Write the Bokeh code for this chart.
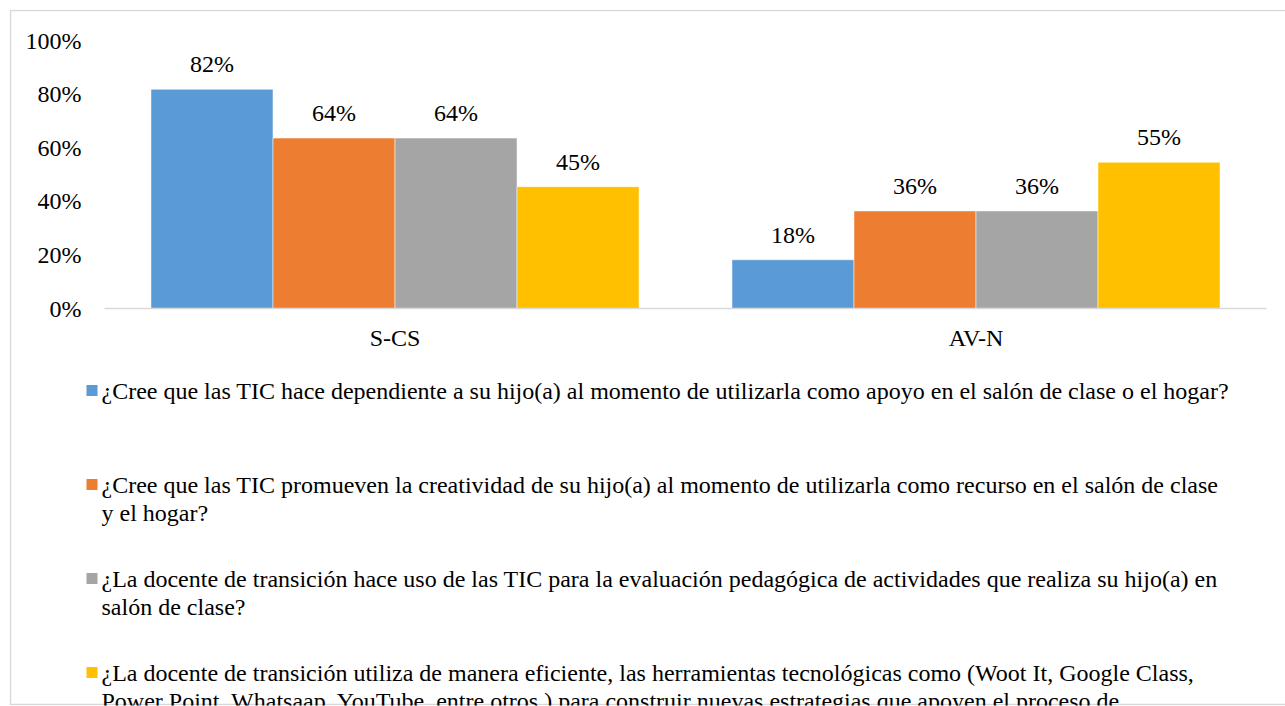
from bokeh.plotting import figure
from bokeh.models import (Range1d, ColumnDataSource, LabelSet, LinearAxis,
                          NumeralTickFormatter, FixedTicker)
from bokeh.embed import file_html
from bokeh.resources import INLINE

groups = ["S-CS", "AV-N"]
series_lines = [
    ["¿Cree que las TIC hace dependiente a su hijo(a) al momento de utilizarla como apoyo en el salón de clase o el hogar?"],
    ["¿Cree que las TIC promueven la creatividad de su hijo(a) al momento de utilizarla como recurso en el salón de clase",
     "y el hogar?"],
    ["¿La docente de transición hace uso de las TIC para la evaluación pedagógica de actividades que realiza su hijo(a) en",
     "salón de clase?"],
    ["¿La docente de transición utiliza de manera eficiente, las herramientas tecnológicas como (Woot It, Google Class,",
     "Power Point, Whatsaap, YouTube, entre otros ) para construir nuevas estrategias que apoyen el proceso de"],
]
values_s1 = [0.818, 0.182]
values_s2 = [0.636, 0.364]
values_s3 = [0.636, 0.364]
values_s4 = [0.4545, 0.5455]
series_values = [values_s1, values_s2, values_s3, values_s4]
colors = ["#5B9BD5", "#ED7D31", "#A5A5A5", "#FFC000"]
y_ticks = [0, 0.2, 0.4, 0.6, 0.8, 1.0]

FONT = "Liberation Serif"
FS = "24px"

# layout in page pixels
W, H = 1285, 706
FRAME_L, FRAME_T, FRAME_B = 9, 9, 705            # plot frame (covers whole chart box)
BOX_L, BOX_T, BOX_B = 10, 10, 704                # outer chart border
PLOT_L, PLOT_T, PLOT_B = 104, 40, 308            # inner plotting area
GROUP_PX = 581                                   # pixels per category band
UNIT_PX_Y = (PLOT_B - PLOT_T)                    # pixels per 100%

def px_to_x(px):
    return (px - PLOT_L) / GROUP_PX

def py_to_y(py):
    return (PLOT_B - py) / UNIT_PX_Y

p = figure(x_range=Range1d(px_to_x(FRAME_L), px_to_x(W)),
           y_range=Range1d(py_to_y(FRAME_B), py_to_y(FRAME_T)),
           width=W, height=H, output_backend="svg", toolbar_location=None,
           x_axis_type=None, y_axis_type=None,
           min_border_left=FRAME_L, min_border_top=FRAME_T, min_border_right=0,
           min_border_bottom=H - FRAME_B)
p.outline_line_color = None
p.grid.grid_line_color = None
p.background_fill_color = "white"
p.border_fill_color = "white"

# outer border of the chart box (right side lies beyond the window)
p.line(x=[px_to_x(W + 10), px_to_x(BOX_L), px_to_x(BOX_L), px_to_x(W + 10)],
       y=[py_to_y(BOX_T), py_to_y(BOX_T), py_to_y(BOX_B), py_to_y(BOX_B)],
       line_color="#D9D9D9", line_width=1.5)

bar_w = 0.21
offsets = [-0.315, -0.105, 0.105, 0.315]
for vals, col, off in zip(series_values, colors, offsets):
    xs = [i + 0.5 + off for i in range(len(groups))]
    src = ColumnDataSource(dict(x=xs, v=vals, t=[f"{round(v*100)}%" for v in vals]))
    p.vbar(x="x", top="v", bottom=0, width=bar_w, source=src,
           fill_color=col, line_color="white", line_width=0.5)
    p.add_layout(LabelSet(x="x", y="v", text="t", source=src,
                          y_offset=25, text_align="center", text_baseline="middle",
                          text_font=FONT, text_font_size=FS, text_color="#000000"))

yaxis = LinearAxis(fixed_location=0, bounds=(0, 1),
                   ticker=FixedTicker(ticks=y_ticks),
                   formatter=NumeralTickFormatter(format="0%"))
yaxis.axis_line_color = None
yaxis.major_tick_line_color = None
yaxis.minor_tick_line_color = None
yaxis.major_tick_out = 0
yaxis.major_tick_in = 0
yaxis.major_label_standoff = 23
p.add_layout(yaxis, "left")

xaxis = LinearAxis(fixed_location=0, bounds=(0, len(groups)),
                   ticker=FixedTicker(ticks=[i + 0.5 for i in range(len(groups))]),
                   major_label_overrides={i + 0.5: g for i, g in enumerate(groups)})
xaxis.axis_line_color = "#D9D9D9"
xaxis.axis_line_width = 1.5
xaxis.major_tick_line_color = None
xaxis.minor_tick_line_color = None
xaxis.major_tick_out = 0
xaxis.major_tick_in = 0
xaxis.major_label_standoff = 16
p.add_layout(xaxis, "below")

for ax in (xaxis, yaxis):
    ax.major_label_text_font = FONT
    ax.major_label_text_font_size = FS
    ax.major_label_text_color = "#000000"

# legend (below the plot, one slot per series)
LEG_Y0, LEG_SLOT, LEG_LINE = 390, 94, 28
sq = dict(x=[], y=[], c=[])
tx = dict(x=[], y=[], t=[])
for k, (lines, col) in enumerate(zip(series_lines, colors)):
    y0 = LEG_Y0 + LEG_SLOT * k
    sq["x"].append(px_to_x(91.5)); sq["y"].append(py_to_y(y0)); sq["c"].append(col)
    for i, ln in enumerate(lines):
        tx["x"].append(px_to_x(101)); tx["y"].append(py_to_y(y0 + LEG_LINE * i)); tx["t"].append(ln)
p.rect(x="x", y="y", width=11, height=11, width_units="screen", height_units="screen",
       fill_color="c", line_color=None, source=ColumnDataSource(sq))
p.text(x="x", y="y", text="t", source=ColumnDataSource(tx), text_font={"value": FONT},
       text_font_size={"value": FS}, text_baseline="middle", text_align="left", text_color="#000000")

open("out.html", "w").write(file_html(p, INLINE))
